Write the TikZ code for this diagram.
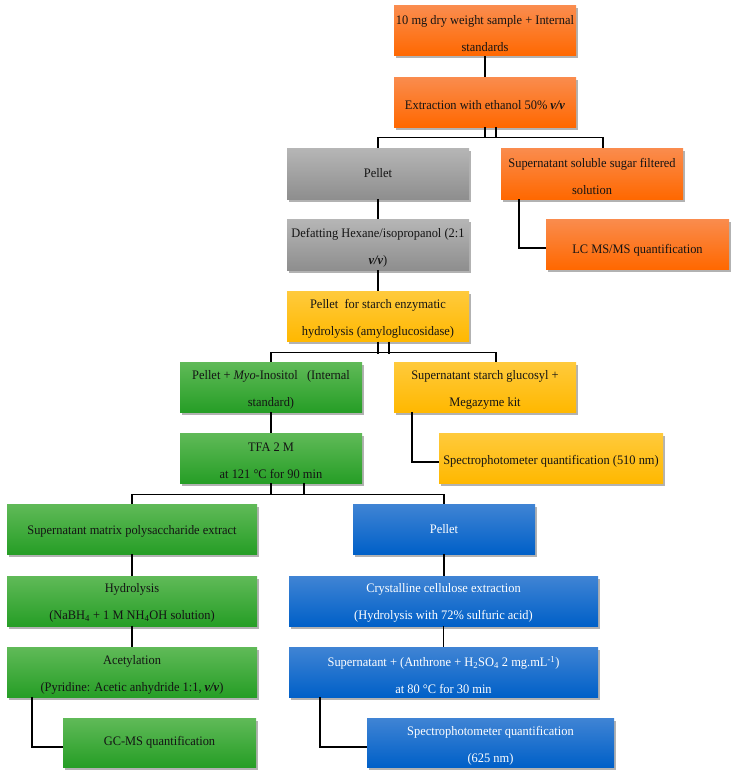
\documentclass[tikz,border=0pt]{standalone}
\usepackage{fontspec}
\setmainfont{Liberation Serif}[FakeStretch=0.955]
\usetikzlibrary{shadows}
\definecolor{orT}{RGB}{250,140,78}
\definecolor{orB}{RGB}{255,104,0}
\definecolor{grT}{RGB}{182,182,182}
\definecolor{grB}{RGB}{142,142,142}
\definecolor{ylT}{RGB}{255,202,60}
\definecolor{ylB}{RGB}{255,184,0}
\definecolor{gnT}{RGB}{96,186,88}
\definecolor{gnB}{RGB}{38,158,38}
\definecolor{blT}{RGB}{64,132,212}
\definecolor{blB}{RGB}{0,96,200}
\tikzset{
  box/.style={rectangle, inner sep=0pt,
    drop shadow={shadow xshift=1.5pt, shadow yshift=-2.5pt, opacity=0.3, fill=black}},
  orbox/.style={box, top color=orT, bottom color=orB},
  grbox/.style={box, top color=grT, bottom color=grB},
  ylbox/.style={box, top color=ylT, bottom color=ylB},
  gnbox/.style={box, top color=gnT, bottom color=gnB},
  blbox/.style={box, top color=blT, bottom color=blB},
  txt/.style={inner sep=0pt, align=center, text=black!92,
    font=\fontsize{13}{27}\selectfont},
  wtxt/.style={txt, text=white},
  link/.style={draw=black, line width=1.1pt}
}
% #1 box style, #2 name, #3 x, #4 y, #5 width, #6 height, #7 text style, #8 text shift down, #9 text
\newcommand\flowbox[9]{%
  \node[#1, minimum width=#5pt, minimum height=#6pt] (#2) at (#3,#4) {};
  \node[#7] (#2-t) at ([yshift=-#8pt]#2.center) {#9};
}
\begin{document}
\begin{tikzpicture}[x=1pt,y=-1pt]
\useasboundingbox (0,0) rectangle (736,776);
% nodes
\flowbox{orbox}{n1}{485}{31}{182}{50}{txt}{2.5}{10 mg dry weight sample + Internal\\standards}
\flowbox{orbox}{n2}{485}{102}{182}{50}{txt}{3}{Extraction with ethanol 50\% \textbf{\textit{v/v}}}
\flowbox{grbox}{pel}{378}{173.5}{182}{51}{txt}{0}{Pellet}
\flowbox{orbox}{sup}{592}{173.5}{182}{51}{txt}{2.5}{Supernatant soluble sugar filtered\\solution}
\flowbox{grbox}{def}{378}{244.5}{182}{51}{txt}{3.5}{Defatting Hexane/isopropanol (2:1\\\textbf{\textit{v/v}})}
\flowbox{orbox}{lc}{637.5}{244}{183}{50}{txt}{6}{LC MS/MS quantification}
\flowbox{ylbox}{ylw}{378}{316.5}{182}{50}{txt}{2}{Pellet\ \ for starch enzymatic\\hydrolysis (amyloglucosidase)}
\flowbox{gnbox}{myo}{271}{387}{182}{50}{txt}{3}{Pellet + \textit{Myo}-Inositol\ \ \ (Internal\\standard)}
\flowbox{ylbox}{sgl}{485}{387}{182}{50}{txt}{3}{Supernatant starch glucosyl +\\Megazyme kit}
\flowbox{gnbox}{tfa}{271}{458}{182}{50}{txt}{3}{TFA 2 M\\at 121 °C for 90 min}
\flowbox{ylbox}{sp5}{551}{458}{224}{50}{txt}{3}{Spectrophotometer quantification (510 nm)}
\flowbox{gnbox}{spm}{132}{529}{250}{50}{txt}{2.7}{Supernatant matrix polysaccharide extract}
\flowbox{blbox}{bpel}{444}{529}{182}{50}{wtxt}{0}{Pellet}
\flowbox{gnbox}{hyd}{132}{601}{250}{50}{txt}{2.3}{Hydrolysis\\(NaBH\textsubscript{4} + 1 M NH\textsubscript{4}OH solution)}
\flowbox{blbox}{cry}{443.5}{601}{309}{50}{wtxt}{2.3}{Crystalline cellulose extraction\\(Hydrolysis with 72\% sulfuric acid)}
\flowbox{gnbox}{ace}{132}{672}{250}{50}{txt}{3.3}{Acetylation\\(Pyridine: Acetic anhydride 1:1, \textbf{\textit{v/v}})}
\flowbox{blbox}{ant}{443.5}{672}{309}{50}{wtxt}{3}{Supernatant + (Anthrone + H\textsubscript{2}SO\textsubscript{4} 2 mg.mL\textsuperscript{-1})\\at 80 °C for 30 min}
\flowbox{gnbox}{gc}{159.5}{742.5}{193}{49}{txt}{0}{GC-MS quantification}
\flowbox{blbox}{sp6}{490.5}{742.5}{247}{49}{wtxt}{3.5}{Spectrophotometer quantification\\(625 nm)}
% connectors
\draw[link] (n1.south) -- (n2.north);
\draw[link] (n2.south) -- ++(0,11);
\draw[link] ([xshift=11pt]n2.south) -- ++(0,11);
\draw[link] (pel.north) -- ++(0,-10) -| ([xshift=11pt]sup.north);
\draw[link] (pel.south) -- (def.north);
\draw[link] ([xshift=-73pt]sup.south) |- ([yshift=-4pt]lc.west);
\draw[link] (def.south) -- (ylw.north);
\draw[link] (ylw.south) -- ++(0,12);
\draw[link] ([xshift=11pt]ylw.south) -- ++(0,12);
\draw[link] (myo.north) -- ++(0,-9) -| ([xshift=11pt]sgl.north);
\draw[link] (myo.south) -- (tfa.north);
\draw[link] ([xshift=-73pt]sgl.south) |- ([yshift=-4pt]sp5.west);
\draw[link] (tfa.south) -- ++(0,12);
\draw[link] ([xshift=33pt]tfa.south) -- ++(0,12);
\draw[link] (spm.north) -- ++(0,-9) -| (bpel.north);
\draw[link] (spm.south) -- (hyd.north);
\draw[link] (hyd.south) -- (ace.north);
\draw[link] (bpel.south) -- ([xshift=0.5pt]cry.north);
\draw[link] (cry.south) -- (ant.north);
\draw[link] ([xshift=-100pt]ace.south) |- ([yshift=-4.5pt]gc.west);
\draw[link] ([xshift=-123.5pt]ant.south) |- ([yshift=-4.5pt]sp6.west);
\end{tikzpicture}
\end{document}
